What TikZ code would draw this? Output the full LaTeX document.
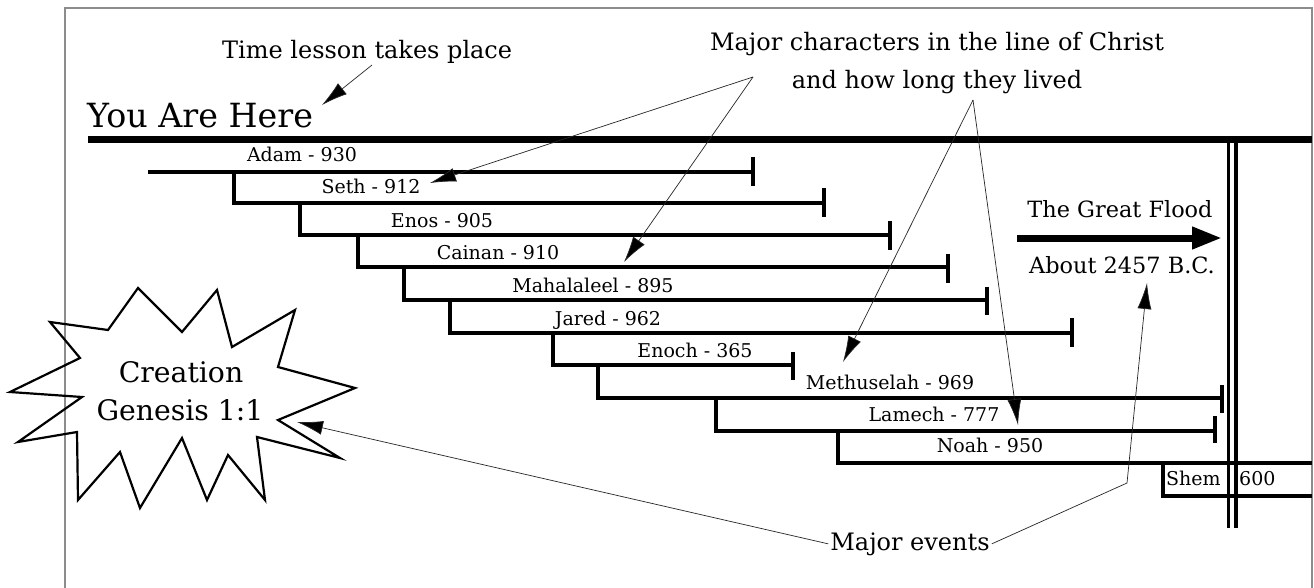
\documentclass[tikz,border=0pt]{standalone}
\usepackage{fontspec}
\setmainfont{DejaVu Serif}
\usetikzlibrary{arrows.meta}
\begin{document}
\begin{tikzpicture}[x=1pt,y=-1pt,
  frameline/.style={draw=black!45, line width=2.4pt},
  mainline/.style={line width=7pt},
  bar/.style={line width=3.2pt, line join=miter},
  tickmark/.style={line width=3.2pt},
  lbl/.style={font=\fontsize{19}{23}\selectfont, inner sep=0pt},
  note/.style={font=\fontsize{24}{29}\selectfont, inner sep=0pt},
  conn/.style={line width=0.7pt, draw=black!85, -{Latex[length=26pt,width=14pt,fill=black]}},
  starline/.style={line width=2.2pt, line join=miter, miter limit=25},
  dbl/.style={line width=3.4pt, double=white, double distance=4.2pt}
]
\useasboundingbox (0,0) rectangle (1314,588);
\fill[white] (0,0) rectangle (1314,588);
% frame
\draw[frameline] (65,588) -- (65,8) -- (1312,8) -- (1312,588);

% vertical double line (flood)
\draw[dbl] (1232,140) -- (1232,528);

% main time line
\draw[mainline] (88,140) -- (1312,140);

% top notes
\node[font=\fontsize{33.3}{40}\selectfont, inner sep=0pt, anchor=base west] (here) at (87,128) {You Are Here};
\node[note, anchor=base west] (time) at (222,59) {Time lesson takes place};
\node[note, anchor=base] (majA) at (937,51) {Major characters in the line of Christ};
\node[note, anchor=base] (majB) at (937,89) {and how long they lived};

% bars
\draw[bar] (148,172) -- (753,172);
\draw[tickmark] (753,157) -- (753,186);
\draw[bar] (234,172) -- (234,203) -- (824,203);
\draw[tickmark] (824,188) -- (824,217);
\draw[bar] (300,203) -- (300,235) -- (890,235);
\draw[tickmark] (890,221) -- (890,250);
\draw[bar] (358,235) -- (358,267) -- (948,267);
\draw[tickmark] (948,254) -- (948,283);
\draw[bar] (404,267) -- (404,300) -- (987,300);
\draw[tickmark] (987,287) -- (987,315);
\draw[bar] (450,300) -- (450,333) -- (1072,333);
\draw[tickmark] (1072,318) -- (1072,347);
\draw[bar] (553,333) -- (553,365) -- (793,365);
\draw[tickmark] (793,352) -- (793,380);
\draw[bar] (598,365) -- (598,398) -- (1222,398);
\draw[tickmark] (1222,385) -- (1222,413);
\draw[bar] (716,398) -- (716,431) -- (1215,431);
\draw[tickmark] (1215,416) -- (1215,443);

% names
\node[lbl, anchor=base] (adam) at (302,162) {Adam - 930};
\node[lbl, anchor=base] (seth) at (371,194) {Seth - 912};
\node[lbl, anchor=base] (enos) at (442,227) {Enos - 905};
\node[lbl, anchor=base] (cainan) at (498,259) {Cainan - 910};
\node[lbl, anchor=base] (mahal) at (593,292) {Mahalaleel - 895};
\node[lbl, anchor=base] (jared) at (608,325) {Jared - 962};
\node[lbl, anchor=base] (enoch) at (695,357) {Enoch - 365};
\node[lbl, anchor=base] (meth) at (890,389) {Methuselah - 969};
\node[lbl, anchor=base] (lamech) at (934,421) {Lamech - 777};
\node[lbl, anchor=base] (noah) at (990,452) {Noah - 950};
\node[lbl, anchor=base west] (shem) at (1166,485) {Shem - 600};

% double line again over the Shem text (covers the dash)
\draw[dbl] (1232,440) -- (1232,528);

% Noah and Shem bars crossing the double line
\draw[bar] (838,431) -- (838,463) -- (1312,463);
\draw[bar] (1163,463) -- (1163,496) -- (1312,496);

% great flood
\node[font=\fontsize{22.4}{27}\selectfont, inner sep=0pt, anchor=base] (flood) at (1120,218) {The Great Flood};
\node[font=\fontsize{22.4}{27}\selectfont, inner sep=0pt, anchor=base] (date) at (1122,273) {About 2457 B.C.};
\coordinate (floodA) at (1017,238);
\coordinate (floodB) at (1222,238);
\draw[line width=7pt, -{Triangle[length=30pt,width=21pt]}] (floodA) -- (floodB);

% starburst
\draw[starline] (10,392) -- (82,397) -- (18,442) -- (77,432) -- (78,500) -- (120,452)
  -- (140,508) -- (182,438) -- (207,500) -- (228,455) -- (265,500) -- (257,437)
  -- (340,458) -- (278,420) -- (355,388) -- (278,367) -- (295,310) -- (232,347)
  -- (217,290) -- (182,332) -- (138,288) -- (108,330) -- (50,322) -- (80,358) -- cycle;
\node[font=\fontsize{28.3}{34}\selectfont, inner sep=0pt, anchor=base] (creA) at (181,382) {Creation};
\node[font=\fontsize{28.3}{34}\selectfont, inner sep=0pt, anchor=base] (creB) at (180,420) {Genesis 1:1};

% major events
\node[note, anchor=base, inner sep=2pt] (events) at (910,550) {Major events};

% connector points
\coordinate (timeFrom) at (372,65);
\coordinate (hereTip) at (322,105);
\coordinate (apexA) at (753,77);
\coordinate (sethTip) at (430,183);
\coordinate (cainTip) at (624,262);
\coordinate (apexB) at (973,100);
\coordinate (methTip) at (843,362);
\coordinate (lamTip) at (1018,425);
\coordinate (creTip) at (297,422);
\coordinate (bend) at (1127,483);
\coordinate (dateTip) at (1147,283);

\draw[conn] (timeFrom) -- (hereTip);
\draw[conn] (apexA) -- (sethTip);
\draw[conn] (apexA) -- (cainTip);
\draw[conn] (apexB) -- (methTip);
\draw[conn] (apexB) -- (lamTip);
\draw[conn] (events.west) -- (creTip);
\draw[conn] (events.east) -- (bend) -- (dateTip);
\end{tikzpicture}
\end{document}
